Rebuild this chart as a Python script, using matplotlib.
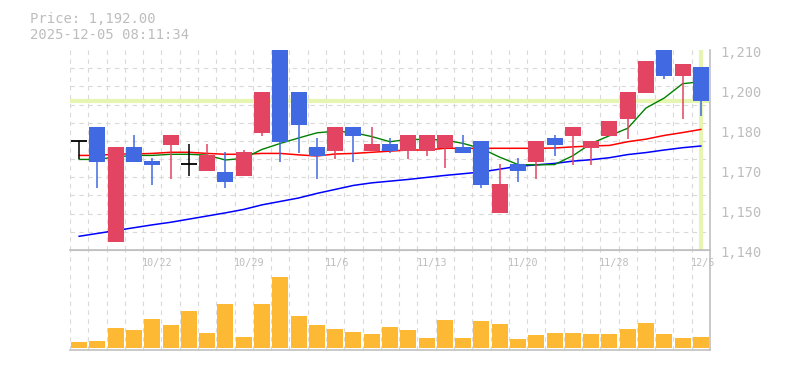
import matplotlib
matplotlib.use("Agg")
import matplotlib.pyplot as plt
import matplotlib.transforms as mtransforms
import numpy as np

# daily candles 10/16 .. 12/5
opens = [1178.2, 1183.0, 1142.9, 1176.0, 1171.2, 1176.9, 1170.0, 1167.7, 1167.3, 1165.9,
         1181.0, 1210.0, 1195.3, 1176.0, 1174.8, 1183.0, 1174.8, 1177.1, 1174.8, 1174.8,
         1175.8, 1176.0, 1178.2, 1153.1, 1170.1, 1170.9, 1179.2, 1180.0, 1175.8, 1180.0,
         1186.0, 1195.1, 1210.0, 1201.0, 1204.0]
highs = [1178.2, 1183.0, 1176.0, 1180.3, 1172.2, 1180.3, 1177.1, 1177.1, 1174.3, 1175.0,
         1195.3, 1210.0, 1195.3, 1179.2, 1183.0, 1183.0, 1183.0, 1179.2, 1180.3, 1180.3,
         1180.3, 1180.3, 1178.2, 1170.2, 1172.3, 1178.2, 1180.3, 1183.0, 1178.2, 1185.2,
         1195.3, 1206.2, 1210.0, 1205.1, 1204.0]
lows = [1171.8, 1161.8, 1142.9, 1170.8, 1162.8, 1165.0, 1166.0, 1167.7, 1161.8, 1165.9,
        1179.9, 1170.9, 1174.0, 1165.0, 1172.0, 1170.9, 1174.8, 1174.1, 1172.0, 1173.0,
        1168.8, 1174.1, 1161.8, 1153.1, 1163.9, 1165.0, 1173.0, 1169.9, 1169.9, 1180.0,
        1178.9, 1195.1, 1200.0, 1186.0, 1187.0]
closes = [1178.2, 1170.8, 1176.0, 1170.8, 1169.8, 1180.3, 1170.0, 1173.3, 1163.9, 1174.3,
          1195.3, 1177.9, 1183.9, 1173.0, 1183.0, 1180.0, 1177.1, 1174.8, 1180.3, 1180.3,
          1180.3, 1174.1, 1162.9, 1163.2, 1167.8, 1178.2, 1176.9, 1183.0, 1178.2, 1185.2,
          1195.3, 1206.2, 1201.0, 1205.1, 1192.0]

ma_short = [1171.7, 1171.7, 1172.6, 1173.1, 1173.1, 1173.5, 1173.5, 1173.2, 1171.5, 1172.1,
            1175.2, 1177.3, 1179.2, 1181.0, 1181.6, 1181.1, 1179.7, 1177.9, 1178.7, 1178.7,
            1178.5, 1177.3, 1175.5, 1172.5, 1169.9, 1169.8, 1169.9, 1173.0, 1177.3, 1180.0,
            1182.6, 1189.7, 1193.2, 1198.2, 1198.9]
ma_mid = [1173.1, 1173.1, 1173.6, 1173.6, 1173.8, 1174.2, 1174.2, 1173.8, 1173.5, 1173.5,
          1173.8, 1173.8, 1173.3, 1172.9, 1173.6, 1173.8, 1174.2, 1174.6, 1175.0, 1175.0,
          1175.6, 1175.6, 1175.6, 1175.6, 1175.6, 1175.6, 1175.7, 1176.1, 1176.4, 1176.6,
          1177.9, 1178.8, 1180.1, 1181.1, 1182.2]
ma_long = [1144.8, 1145.8, 1146.8, 1147.8, 1148.8, 1149.7, 1150.8, 1151.9, 1153.0, 1154.2,
           1155.8, 1157.0, 1158.2, 1159.8, 1161.2, 1162.6, 1163.5, 1164.1, 1164.7, 1165.4,
           1166.1, 1166.7, 1167.3, 1168.3, 1169.3, 1169.8, 1170.3, 1171.1, 1171.6, 1172.3,
           1173.4, 1174.1, 1175.0, 1175.8, 1176.4]

volumes = [1700, 2000, 5900, 5300, 8600, 6800, 11000, 4400, 13100, 3200,
           13100, 21200, 9500, 6800, 5600, 4700, 4100, 6200, 5300, 2900,
           8300, 2900, 8000, 7100, 2600, 3800, 4400, 4400, 4100, 4100,
           5600, 7400, 4100, 2900, 3200]

date_idx = [4, 9, 14, 19, 24, 29, 34]
date_labels = ["10/22", "10/29", "11/6", "11/13", "11/20", "11/28", "12/5"]

price_ticks = [1140, 1154, 1168, 1182, 1196, 1210]
price_labels = ["1,140", "1,150", "1,170", "1,180", "1,200", "1,210"]

last_price = 1192.0
title_lines = ["Price: 1,192.00", "2025-12-05 08:11:34"]

UP = "#e24461"
DOWN = "#4169e1"
GRID = "#d9d9d9"
FRAME = "#c0c0c0"
TEXT = "#bdbdbd"
MONO = "DejaVu Sans Mono"

n = len(closes)
xs = np.arange(n)
body_w = 0.88


def style_frame(ax):
    for side in ("top", "left"):
        ax.spines[side].set_visible(False)
    for side in ("right", "bottom"):
        ax.spines[side].set_color(FRAME)
        ax.spines[side].set_linewidth(1.2)
    ax.tick_params(which="both", length=0, labelleft=False, labelbottom=False)
    ax.set_xlim(-0.5, n - 0.5)
    ax.set_xticks(np.arange(n + 1) - 0.5, minor=True)
    ax.set_xticks([])
    ax.grid(which="minor", axis="x", color=GRID, linestyle=(0, (4, 4)), linewidth=0.8)


def draw_candles(ax):
    for i in range(n):
        o, h, l, c = opens[i], highs[i], lows[i], closes[i]
        if c > o:
            col = UP
        elif c < o:
            col = DOWN
        else:
            col = "black"
        ax.vlines(i, l, h, color=col, linewidth=1.1, zorder=4)
        if c == o:
            ax.hlines(o, i - body_w / 2, i + body_w / 2, color=col, linewidth=1.3, zorder=5)
        else:
            ax.bar(i, abs(c - o), bottom=min(o, c), width=body_w, color=col,
                   linewidth=0, zorder=5)


fig = plt.figure(figsize=(7.85, 3.7), dpi=100)
ax = fig.add_axes([70 / 785, 120 / 370, 640 / 785, 200 / 370])
axv = fig.add_axes([70 / 785, 20 / 370, 640 / 785, 100 / 370])

# price panel
style_frame(ax)
ax.set_ylim(1140, 1210)
ax.set_yticks(np.linspace(1140, 1210, 12), minor=True)
ax.grid(which="minor", axis="y", color=GRID, linestyle=(0, (4, 4)), linewidth=0.8)
ax.set_axisbelow(True)

ax.axhline(last_price, color="#e6f5b2", linewidth=3, zorder=2)
ax.axvline(n - 1, color="#e6f5b2", linewidth=3, zorder=2)

ax.plot(xs, ma_long, color="#0000ff", linewidth=1.1, zorder=3)
ax.plot(xs, ma_mid, color="#ff0000", linewidth=1.1, zorder=3)
ax.plot(xs, ma_short, color="#008000", linewidth=1.0, zorder=3)

draw_candles(ax)

label_tf = mtransforms.offset_copy(ax.get_yaxis_transform(), fig=fig, x=10, y=-7, units="dots")
for val, lab in zip(price_ticks, price_labels):
    ax.text(1.0, val, lab, transform=label_tf, ha="left", va="baseline",
            fontsize=9.8, family=MONO, color=TEXT, clip_on=False)

# volume panel
style_frame(axv)
axv.spines["top"].set_visible(True)
axv.spines["top"].set_color(FRAME)
axv.set_ylim(-700, 29300)
axv.set_yticks([])
axv.set_axisbelow(True)
axv.bar(xs, volumes, width=body_w, color="#fdb834", linewidth=0, zorder=3)

date_tf = mtransforms.offset_copy(axv.get_xaxis_transform(), fig=fig, x=-1, y=0, units="dots")
for i, lab in zip(date_idx, date_labels):
    axv.text(i - 0.5, 0.84, lab, transform=date_tf, ha="left", va="baseline",
             fontsize=7.3, family=MONO, color=TEXT, zorder=4, clip_on=False)

fig.text(30 / 785, 1 - 22.7 / 370, title_lines[0], fontsize=10, family=MONO, color=TEXT,
         va="baseline")
fig.text(30 / 785, 1 - 39.3 / 370, title_lines[1], fontsize=10, family=MONO, color=TEXT,
         va="baseline")

fig.savefig("out.png", dpi=100)
